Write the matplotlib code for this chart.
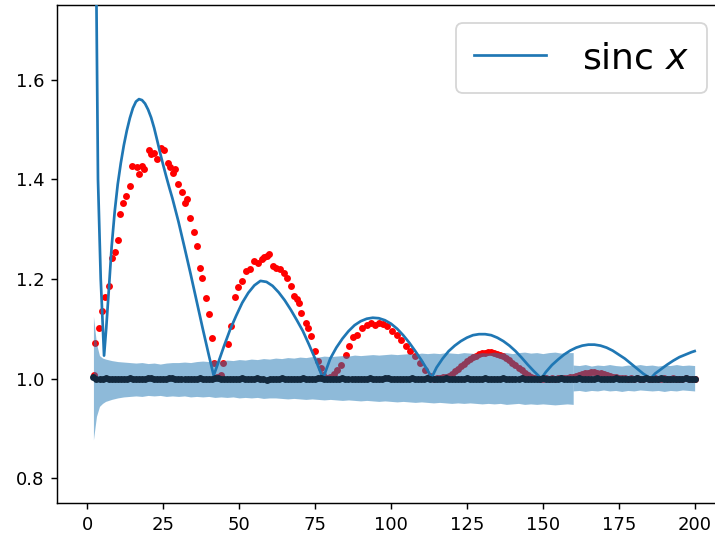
import numpy as np
import matplotlib
matplotlib.use("Agg")
import matplotlib.pyplot as plt

# blue curve
line_x = [2.0, 3.0, 3.5, 4.4, 5.5, 6.2, 7.2, 8.0, 9.0, 10, 11, 12, 13, 14, 15, 16, 17, 18, 19,
          20, 21, 22, 23, 24, 25, 26, 27, 28, 30, 32, 34, 36, 38, 40, 41.6,
          43, 45, 47, 49, 51, 53, 55, 57, 59, 61, 63, 65, 67, 69, 71, 73, 75, 77.6,
          80, 82, 84, 86, 88, 90, 92, 94, 96, 98, 100, 102, 104, 106, 108, 110, 112, 113.4,
          115, 117, 119, 121, 123, 125, 127, 129, 131, 133, 135, 137, 139, 141, 143, 145, 147, 149.5,
          151, 153, 155, 157, 159, 161, 163, 165, 167, 169, 171, 173, 175, 177, 179, 181, 183, 185.5,
          187, 189, 191, 193, 195, 197, 199, 200]
line_y = [2.6, 1.75, 1.40, 1.20, 1.046, 1.10, 1.19, 1.265, 1.335, 1.39, 1.432, 1.468, 1.498, 1.523, 1.543, 1.556, 1.561, 1.559, 1.552,
          1.54, 1.524, 1.503, 1.478, 1.452, 1.428, 1.405, 1.383, 1.362, 1.315, 1.263, 1.21, 1.155, 1.10, 1.047, 1.006,
          1.03, 1.065, 1.098, 1.126, 1.152, 1.172, 1.187, 1.196, 1.194, 1.186, 1.173, 1.157, 1.138, 1.117, 1.095, 1.068, 1.04, 1.0,
          1.04, 1.062, 1.08, 1.095, 1.107, 1.115, 1.12, 1.122, 1.121, 1.117, 1.11, 1.10, 1.087, 1.072, 1.055, 1.037, 1.017, 1.002,
          1.022, 1.04, 1.055, 1.066, 1.075, 1.082, 1.087, 1.089, 1.089, 1.087, 1.082, 1.075, 1.066, 1.055, 1.042, 1.028, 1.015, 1.0,
          1.013, 1.027, 1.038, 1.048, 1.056, 1.062, 1.066, 1.068, 1.068, 1.066, 1.062, 1.056, 1.048, 1.04, 1.03, 1.02, 1.01, 1.0,
          1.01, 1.019, 1.028, 1.036, 1.043, 1.048, 1.053, 1.055]

# red dots
red_x = [2.1, 2.6, 3.8, 4.7, 5.7, 7.0, 8.1, 9.0, 10.1, 10.9, 11.7, 12.8, 13.9, 14.8, 16.4, 17.0, 18.1, 18.8,
         20.2, 21.0, 21.9, 22.9, 24.1, 25.1, 26.5, 27.3, 28.1, 28.9, 29.8, 31.1, 32.2, 32.8, 33.9, 35.2,
         36.0, 37.0, 37.8, 39.1, 40.2, 40.9, 41.8, 42.8, 44.0, 44.8, 46.2, 47.3, 48.5, 49.5, 50.9, 52.2,
         53.6, 54.9, 56.1, 57.4, 58.2, 59.1, 59.9, 61.0, 62.1, 63.5, 64.8, 65.9, 67.0, 67.9, 69.0, 69.7,
         70.5, 71.9, 72.7, 73.6, 75.0, 76.0, 76.8, 77.7, 78.8, 80.0, 81.2, 82.3, 83.4, 85.1, 86.2, 87.6,
         88.9, 90.5, 92.2, 93.3, 94.6, 96.0, 97.4, 98.7, 100.4, 102.0, 103.3, 104.8, 106.4, 108.0, 109.7,
         111.3, 112.7] + list(range(114, 201))
red_y = [1.008, 1.072, 1.102, 1.135, 1.164, 1.186, 1.242, 1.254, 1.279, 1.33, 1.353, 1.366, 1.387, 1.427, 1.425, 1.41, 1.427, 1.42,
         1.459, 1.45, 1.453, 1.44, 1.462, 1.459, 1.433, 1.425, 1.413, 1.42, 1.39, 1.374, 1.353, 1.361, 1.323, 1.294,
         1.266, 1.222, 1.201, 1.161, 1.129, 1.082, 1.031, 1.004, 1.008, 1.031, 1.07, 1.105, 1.163, 1.184, 1.196, 1.216,
         1.22, 1.236, 1.232, 1.239, 1.243, 1.246, 1.249, 1.226, 1.222, 1.219, 1.212, 1.202, 1.186, 1.165, 1.159, 1.151,
         1.132, 1.112, 1.102, 1.085, 1.055, 1.035, 1.021, 1.008, 1.002, 1.004, 1.01, 1.018, 1.028, 1.048, 1.065, 1.084,
         1.088, 1.102, 1.107, 1.111, 1.107, 1.112, 1.109, 1.105, 1.095, 1.088, 1.078, 1.065, 1.055, 1.045, 1.031,
         1.018, 1.005,
         1.000, 1.001, 1.002, 1.003, 1.004, 1.006,
         1.010, 1.015, 1.020, 1.025, 1.030, 1.035, 1.039, 1.043, 1.046, 1.049,
         1.051, 1.052, 1.053, 1.053, 1.052, 1.050, 1.048, 1.045, 1.041, 1.037,
         1.032, 1.027, 1.022, 1.017, 1.012, 1.008, 1.004, 1.002, 1.001, 1.000,
         1.000, 1.001, 1.000, 1.001, 1.000, 1.001, 1.002, 1.001, 1.002, 1.003,
         1.004, 1.006, 1.008, 1.009, 1.011, 1.012, 1.013, 1.013, 1.012, 1.011,
         1.010, 1.008, 1.006, 1.004, 1.003, 1.002, 1.001, 1.001, 1.000, 1.001,
         1.000, 1.001, 1.000, 1.000, 1.001, 1.000, 1.000, 1.001, 1.000, 1.000,
         1.001, 1.000, 1.000, 1.001, 1.000, 1.000, 1.000, 1.001, 1.000, 1.000, 1.000]

# black dots, x = 2..200
blk_x = list(range(2, 201))
blk_y = [1.004, 1.000, 0.999, 1.000, 1.001, 0.999, 0.998, 0.999, 1.000, 0.999,
         0.998, 0.999, 1.001, 1.000, 0.999, 0.998, 0.999, 1.000, 1.002, 1.001,
         0.999, 0.998, 0.999, 1.000, 0.999, 1.001, 1.002, 1.000, 0.999, 0.998,
         0.999, 1.000, 0.999, 0.998, 0.999, 1.001, 1.000, 0.998, 0.999, 1.000,
         1.001, 1.002, 1.000, 0.999, 0.999, 1.000, 0.998, 0.999, 1.000, 1.001,
         0.999, 0.998, 0.999, 1.000, 1.001, 0.999, 0.998, 0.997, 0.999, 1.000,
         1.000, 0.999, 1.001, 1.000, 0.998, 0.999, 1.000, 0.999, 1.000, 1.001,
         0.999, 0.998, 0.999, 1.000, 1.002, 1.001, 0.999, 0.998, 0.999, 1.000,
         0.999, 1.000, 1.001, 0.999, 0.998, 0.999, 1.000, 0.999, 0.998, 0.999,
         1.000, 1.001, 1.000, 0.999, 0.998, 0.999, 1.001, 1.002, 1.000, 0.999,
         0.998, 0.999, 1.000, 0.999, 1.000, 1.001, 0.999, 0.998, 0.999, 1.000,
         1.001, 1.000, 0.999, 0.998, 0.999, 1.000, 1.002, 1.000, 0.999, 0.998,
         0.999, 1.000, 0.999, 1.001, 1.000, 0.999, 0.998, 0.999, 1.000, 1.001,
         0.999, 0.998, 0.999, 1.000, 0.999, 1.001, 1.000, 0.999, 0.998, 0.999,
         1.000, 1.001, 0.999, 0.998, 0.999, 1.000, 0.999, 1.000, 1.001, 1.000,
         0.999, 0.998, 0.999, 1.000, 1.002, 1.000, 0.999, 0.998, 0.999, 1.000,
         1.001, 0.999, 0.998, 0.999, 1.000, 0.999, 1.001, 1.000, 0.999, 0.998,
         0.999, 1.000, 1.001, 0.999, 0.998, 0.999, 1.000, 0.999, 1.000, 1.001,
         1.000, 0.999, 1.001, 1.000, 0.998, 0.999, 1.000, 1.001, 0.999, 1.000,
         0.999, 0.998, 0.999, 1.000, 0.999, 1.001, 1.000, 0.999, 0.999]

# shaded band, part A (2..160) and part B (160..200)
band_x_a = [2, 3, 4, 5, 6] + list(range(8, 161, 2))
band_hi_a = [1.125, 1.070, 1.046, 1.041, 1.039,
             1.036, 1.034, 1.033, 1.032, 1.031, 1.032, 1.030, 1.031, 1.029, 1.031, 1.032, 1.032, 1.033, 1.032, 1.034, 1.035, 1.034,
             1.036, 1.035, 1.037, 1.036, 1.038, 1.037, 1.039, 1.038, 1.040, 1.039, 1.041, 1.040, 1.042, 1.041, 1.043, 1.042, 1.044, 1.043, 1.045, 1.044,
             1.045, 1.046, 1.045, 1.047, 1.046, 1.047, 1.048, 1.047, 1.048, 1.049, 1.048, 1.049, 1.050, 1.049, 1.051, 1.050, 1.051, 1.050, 1.052, 1.051,
             1.050, 1.052, 1.051, 1.050, 1.052, 1.051, 1.053, 1.051, 1.052, 1.050, 1.052, 1.053, 1.051, 1.052, 1.050, 1.052, 1.053, 1.051, 1.052, 1.052]
band_lo_a = [0.877, 0.924, 0.944, 0.950, 0.954,
             0.958, 0.961, 0.963, 0.964, 0.965, 0.964, 0.966, 0.965, 0.966, 0.964, 0.965, 0.964, 0.965, 0.963, 0.964, 0.963, 0.964,
             0.962, 0.963, 0.962, 0.963, 0.961, 0.962, 0.961, 0.962, 0.960, 0.961, 0.961, 0.960, 0.959, 0.960, 0.959, 0.958, 0.959, 0.958, 0.957, 0.958,
             0.957, 0.956, 0.957, 0.956, 0.955, 0.956, 0.955, 0.954, 0.955, 0.954, 0.953, 0.954, 0.953, 0.952, 0.953, 0.952, 0.951, 0.952, 0.951, 0.950,
             0.951, 0.950, 0.951, 0.950, 0.949, 0.950, 0.949, 0.950, 0.948, 0.949, 0.950, 0.948, 0.949, 0.948, 0.949, 0.948, 0.947, 0.948, 0.949, 0.948]
band_x_b = list(range(160, 201, 2))
band_hi_b = [1.027, 1.026, 1.028, 1.025, 1.027, 1.026, 1.028, 1.026, 1.025, 1.027, 1.026,
             1.028, 1.026, 1.027, 1.025, 1.027, 1.026, 1.028, 1.026, 1.027, 1.026]
band_lo_b = [0.975, 0.976, 0.974, 0.976, 0.975, 0.977, 0.975, 0.976, 0.974, 0.976, 0.975,
             0.977, 0.976, 0.975, 0.976, 0.974, 0.976, 0.975, 0.977, 0.976, 0.975]

fig = plt.figure(figsize=(715 / 130, 537 / 130), dpi=130)
# the right spine falls just outside the picture (cropped figure)
ax = fig.add_axes([57 / 715, 34 / 537, 668 / 715, 498 / 537])

ax.scatter(red_x, red_y, s=8, color="red", zorder=1)
ax.fill_between(band_x_a, band_lo_a, band_hi_a, color="C0", alpha=0.5, linewidth=0, zorder=2)
ax.fill_between(band_x_b, band_lo_b, band_hi_b, color="C0", alpha=0.5, linewidth=0, zorder=2)
ax.plot(line_x, line_y, color="C0", label=r"sinc $x$", zorder=3)
ax.scatter(blk_x, blk_y, s=8, color="#13293d", zorder=4)

ax.set_xlim(-10, 210)
ax.set_ylim(0.75, 1.75)
ax.set_xticks([0, 25, 50, 75, 100, 125, 150, 175, 200])
ax.set_yticks([0.8, 1.0, 1.2, 1.4, 1.6])
ax.legend(loc="upper right", fontsize=20, borderpad=0.5, handletextpad=1.0)

fig.savefig("out.png", dpi=130)
